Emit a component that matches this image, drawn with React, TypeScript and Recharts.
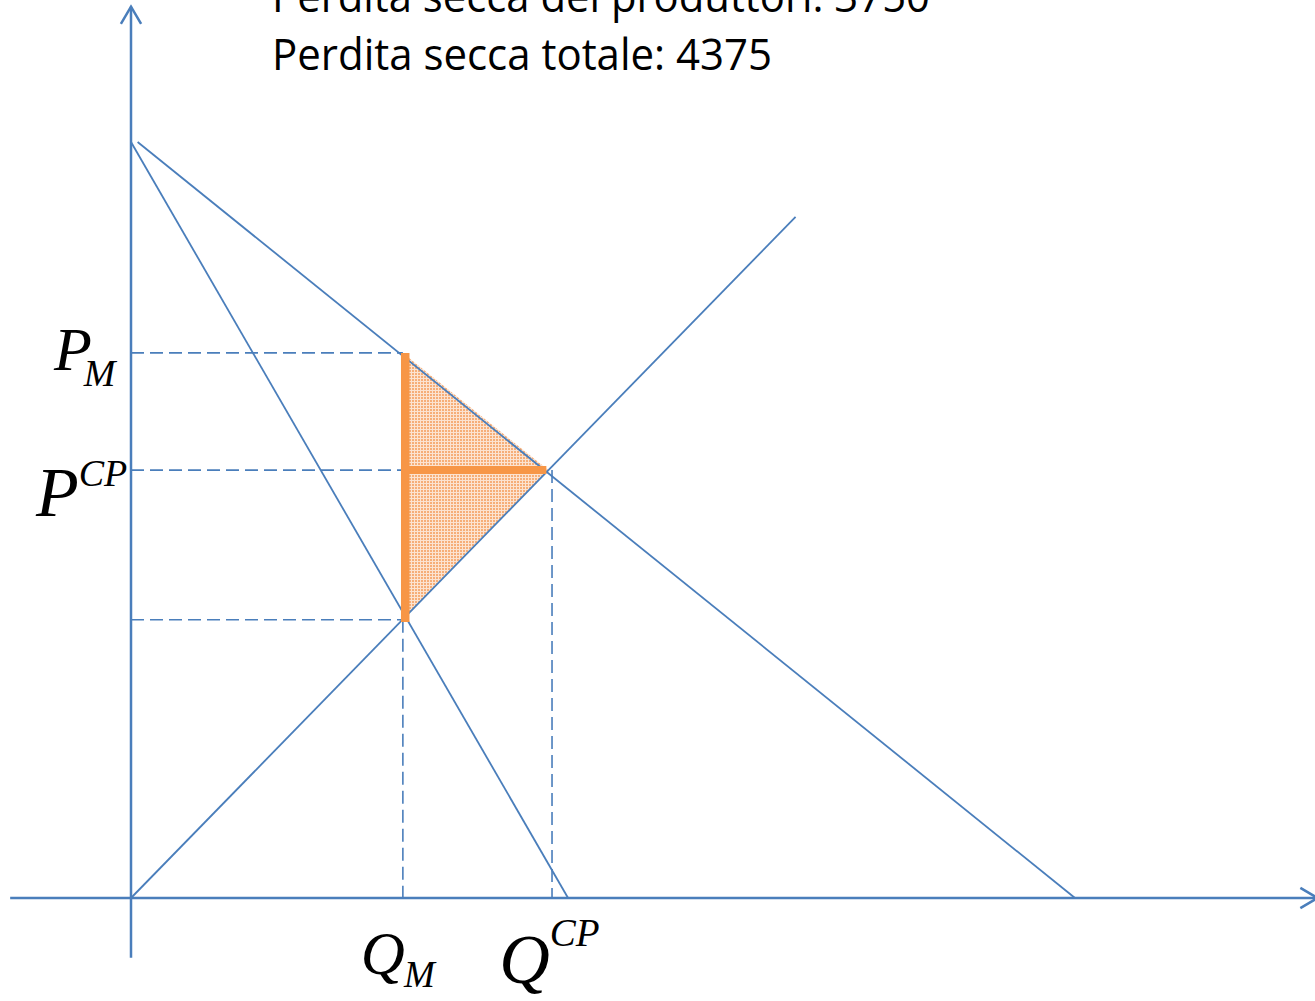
import React from 'react';
import { ComposedChart, XAxis, YAxis, ReferenceLine, ReferenceDot, Area } from 'recharts';

// ---- data (quantity Q, price P) ----
const demand = [{ x: 0.7, y: 100 }, { x: 100, y: 0 }];
const marginalRevenue = [{ x: 0, y: 100 }, { x: 46.3, y: 0 }];
const marginalCost = [{ x: 0, y: 0 }, { x: 70.4, y: 90.1 }];
const QM = 28.8;
const QCP = 44.2;
const PM = 72.1;
const PCP = 56.6;
const PMC = 36.8;
const xAxisExtent = [-12.8, 125.7];
const yAxisExtent = [-7.9, 117.9];
const deadweight = [
  { q: QM, band: [PMC, PM] },
  { q: QCP, band: [PCP, PCP] },
];
const titleLines = ['Perdita secca dei produttori: 3750', 'Perdita secca totale: 4375'];

// ---- layout ----
const W = 1315;
const H = 1001;
const X_DOMAIN: [number, number] = [-13.877, 125.424];
const Y_DOMAIN: [number, number] = [-13.624, 118.783];
const BLUE = '#4A7EBB';
const ORANGE = '#F79646';

const ArrowLine = (props: any) => {
  const { x1, y1, x2, y2 } = props;
  const ang = Math.atan2(y2 - y1, x2 - x1);
  const len = 20;
  const spread = 0.53;
  const ax = x2 + len * Math.cos(ang + Math.PI - spread);
  const ay = y2 + len * Math.sin(ang + Math.PI - spread);
  const bx = x2 + len * Math.cos(ang + Math.PI + spread);
  const by = y2 + len * Math.sin(ang + Math.PI + spread);
  return (
    <g>
      <line x1={x1} y1={y1} x2={x2} y2={y2} stroke={BLUE} strokeWidth={2.5} />
      <polyline points={`${ax},${ay} ${x2},${y2} ${bx},${by}`} fill="none" stroke={BLUE} strokeWidth={2.5} />
    </g>
  );
};

const mathLabel = (main: string, script: string, o: { dx: number; dy: number; size: number; ssize: number; sdx: number; sdy: number }) =>
  (p: any) => {
    const vb = p.viewBox || {};
    const x = (vb.x ?? 0) + (vb.width ?? 0) / 2;
    const y = (vb.y ?? 0) + (vb.height ?? 0) / 2;
    return (
      <text x={x + o.dx} y={y + o.dy} fontFamily="'Liberation Serif', 'DejaVu Serif', serif" fontStyle="italic" fontSize={o.size} fill="#000">
        {main}
        <tspan dx={o.sdx} dy={o.sdy} fontSize={o.ssize}>{script}</tspan>
      </text>
    );
  };

const dashed = { stroke: BLUE, strokeWidth: 1.6, strokeDasharray: '13 6' };
const solid = { stroke: BLUE, strokeWidth: 1.8 };

export default function App() {
  return (
    <div style={{ position: 'absolute', left: 0, top: 0, width: W, height: H, background: '#fff' }}>
      <ComposedChart width={W} height={H} data={deadweight} margin={{ top: 0, right: 0, bottom: 0, left: 0 }}>
        <defs>
          <pattern id="dots" width="3" height="3" patternUnits="userSpaceOnUse">
            <rect width="3" height="3" fill="#F6AE78" />
            <rect width="3" height="1" fill="#FCE3D0" />
            <rect width="1" height="3" fill="#FCE3D0" />
          </pattern>
        </defs>
        <XAxis type="number" dataKey="q" domain={X_DOMAIN} allowDataOverflow hide />
        <YAxis type="number" domain={Y_DOMAIN} allowDataOverflow hide />

        <Area dataKey="band" type="linear" fill="url(#dots)" fillOpacity={1} stroke="none" isAnimationActive={false} dot={false} activeDot={false} />

        {/* axes */}
        <ReferenceLine segment={[{ x: 0, y: yAxisExtent[0] }, { x: 0, y: yAxisExtent[1] }]} ifOverflow="visible" shape={ArrowLine} />
        <ReferenceLine segment={[{ x: xAxisExtent[0], y: 0 }, { x: xAxisExtent[1], y: 0 }]} ifOverflow="visible" shape={ArrowLine} />

        {/* dashed guides */}
        <ReferenceLine segment={[{ x: 0, y: PM }, { x: QM, y: PM }]} {...dashed} />
        <ReferenceLine segment={[{ x: 0, y: PCP }, { x: QCP, y: PCP }]} {...dashed} />
        <ReferenceLine segment={[{ x: 0, y: PMC }, { x: QM, y: PMC }]} {...dashed} />
        <ReferenceLine segment={[{ x: QM, y: PMC }, { x: QM, y: 0 }]} {...dashed} />
        <ReferenceLine segment={[{ x: QCP + 0.4, y: PCP }, { x: QCP + 0.4, y: 0 }]} {...dashed} />

        {/* curves */}
        <ReferenceLine segment={[demand[0], demand[1]]} {...solid} />
        <ReferenceLine segment={[marginalRevenue[0], marginalRevenue[1]]} {...solid} />
        <ReferenceLine segment={[marginalCost[0], marginalCost[1]]} {...solid} />

        {/* orange deadweight split */}
        <ReferenceLine segment={[{ x: QM + 0.25, y: PM }, { x: QM + 0.25, y: PMC - 0.3 }]} stroke={ORANGE} strokeWidth={8.5} />
        <ReferenceLine segment={[{ x: QM + 0.25, y: PCP }, { x: QCP - 0.2, y: PCP }]} stroke={ORANGE} strokeWidth={8} />

        {/* labels */}
        <ReferenceDot x={0} y={PM} r={1} fill="none" stroke="none" label={mathLabel('P', 'M', { dx: -77, dy: 17, size: 62, ssize: 38, sdx: -8, sdy: 16 })} />
        <ReferenceDot x={0} y={PCP} r={1} fill="none" stroke="none" label={mathLabel('P', 'CP', { dx: -95, dy: 46, size: 70, ssize: 38, sdx: 0, sdy: -30 })} />
        <ReferenceDot x={QM} y={0} r={1} fill="none" stroke="none" label={mathLabel('Q', 'M', { dx: -42, dy: 76, size: 61, ssize: 37, sdx: -1, sdy: 13 })} />
        <ReferenceDot x={QCP} y={0} r={1} fill="none" stroke="none" label={mathLabel('Q', 'CP', { dx: -49, dy: 85, size: 70, ssize: 39, sdx: 0, sdy: -37 })} />

        <text x={272} y={12} fontFamily="'Open Sans', sans-serif" fontSize={44} fill="#000" textLength={658} lengthAdjust="spacingAndGlyphs">{titleLines[0]}</text>
        <text x={272} y={70} fontFamily="'Open Sans', sans-serif" fontSize={44} fill="#000" textLength={500} lengthAdjust="spacingAndGlyphs">{titleLines[1]}</text>
      </ComposedChart>
    </div>
  );
}
